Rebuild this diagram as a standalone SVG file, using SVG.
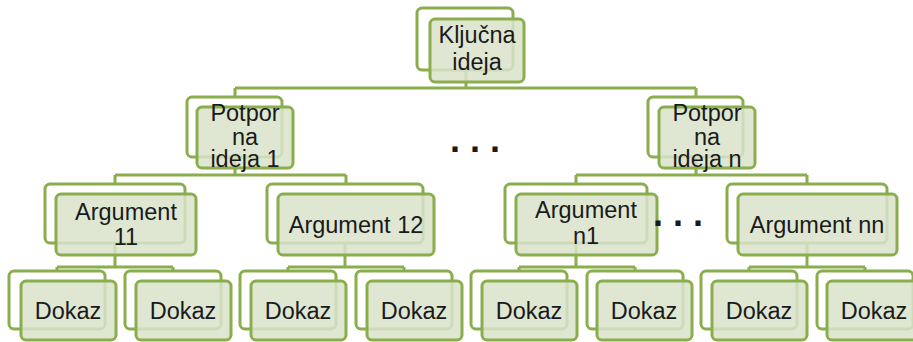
<svg xmlns="http://www.w3.org/2000/svg" width="913" height="342" viewBox="0 0 913 342">
<style>
  .c { fill: none; stroke: #8aae4c; stroke-width: 3; }
  .b { fill: #ffffff; stroke: #8aae4c; stroke-width: 3; }
  .f { fill: #d9e3cb; fill-opacity: 0.85; stroke: #8aae4c; stroke-width: 3; }
  text { font-family: "Liberation Sans", Arial, sans-serif; font-size: 23.5px; fill: #1a1a1a; text-anchor: middle; }
  .dots { font-weight: bold; font-size: 36px; }
</style>
<rect width="913" height="342" fill="#ffffff"/>
<g id="connectors">
  <path class="c" d="M466 70 V88 M235 88 H696 M235 88 V97 M696 88 V97"/>
  <path class="c" d="M235 157 V175 M115 175 H346 M115 175 V184 M346 175 V184"/>
  <path class="c" d="M696 157 V175 M576 175 H807 M576 175 V184 M807 175 V184"/>
  <path class="c" d="M115 243 V267 M57 267 H173 M57 267 V271 M173 267 V271"/>
  <path class="c" d="M345 243 V267 M288 267 H404 M288 267 V271 M404 267 V271"/>
  <path class="c" d="M576 243 V267 M519 267 H635 M519 267 V271 M635 267 V271"/>
  <path class="c" d="M807 243 V267 M749 267 H865 M749 267 V271 M865 267 V271"/>
</g>
<g id="kljucna">
  <rect class="b" x="417" y="8" width="96" height="62" rx="5"/>
  <rect class="f" x="430" y="19" width="94" height="63" rx="5"/>
  <text x="477" y="43">Ključna</text>
  <text x="477" y="70">ideja</text>
</g>
<g id="potpor1">
  <rect class="b" x="187" y="97" width="95" height="60" rx="5"/>
  <rect class="f" x="197" y="107" width="96" height="61" rx="5"/>
  <text x="245" y="121">Potpor</text>
  <text x="245" y="145">na</text>
  <text x="245" y="167">ideja 1</text>
</g>
<g id="potporn">
  <rect class="b" x="648" y="97" width="95" height="60" rx="5"/>
  <rect class="f" x="659" y="107" width="96" height="61" rx="5"/>
  <text x="707" y="121">Potpor</text>
  <text x="707" y="145">na</text>
  <text x="707" y="167">ideja n</text>
</g>
<g id="arg11">
  <rect class="b" x="45" y="184" width="140" height="59" rx="5"/>
  <rect class="f" x="56" y="194" width="140" height="61" rx="5"/>
  <text x="126" y="220">Argument</text>
  <text x="126" y="245">11</text>
</g>
<g id="arg12">
  <rect class="b" x="267" y="184" width="156" height="59" rx="5"/>
  <rect class="f" x="278" y="194" width="156" height="61" rx="5"/>
  <text x="356" y="233">Argument 12</text>
</g>
<g id="argn1">
  <rect class="b" x="505" y="184" width="142" height="59" rx="5"/>
  <rect class="f" x="516" y="194" width="141" height="61" rx="5"/>
  <text x="586" y="218">Argument</text>
  <text x="586" y="244">n1</text>
</g>
<g id="argnn">
  <rect class="b" x="727" y="184" width="160" height="59" rx="5"/>
  <rect class="f" x="738" y="194" width="159" height="61" rx="5"/>
  <text x="817" y="233">Argument nn</text>
</g>
<g id="dokaz1">
  <rect class="b" x="9" y="271" width="96" height="58" rx="5"/>
  <rect class="f" x="21" y="281" width="95" height="59" rx="5"/>
  <text x="68" y="319">Dokaz</text>
</g>
<g id="dokaz2">
  <rect class="b" x="125" y="271" width="96" height="58" rx="5"/>
  <rect class="f" x="136" y="281" width="95" height="59" rx="5"/>
  <text x="183" y="319">Dokaz</text>
</g>
<g id="dokaz3">
  <rect class="b" x="240" y="271" width="96" height="58" rx="5"/>
  <rect class="f" x="251" y="281" width="95" height="59" rx="5"/>
  <text x="298" y="319">Dokaz</text>
</g>
<g id="dokaz4">
  <rect class="b" x="356" y="271" width="96" height="58" rx="5"/>
  <rect class="f" x="367" y="281" width="95" height="59" rx="5"/>
  <text x="414" y="319">Dokaz</text>
</g>
<g id="dokaz5">
  <rect class="b" x="471" y="271" width="96" height="58" rx="5"/>
  <rect class="f" x="482" y="281" width="95" height="59" rx="5"/>
  <text x="529" y="319">Dokaz</text>
</g>
<g id="dokaz6">
  <rect class="b" x="587" y="271" width="96" height="58" rx="5"/>
  <rect class="f" x="597" y="281" width="95" height="59" rx="5"/>
  <text x="644" y="319">Dokaz</text>
</g>
<g id="dokaz7">
  <rect class="b" x="701" y="271" width="96" height="58" rx="5"/>
  <rect class="f" x="712" y="281" width="95" height="59" rx="5"/>
  <text x="759" y="319">Dokaz</text>
</g>
<g id="dokaz8">
  <rect class="b" x="817" y="271" width="96" height="58" rx="5"/>
  <rect class="f" x="827" y="281" width="95" height="59" rx="5"/>
  <text x="874" y="319">Dokaz</text>
</g>
<text class="dots" x="475" y="152">. . .</text>
<text class="dots" x="678" y="226">. . .</text>
</svg>
